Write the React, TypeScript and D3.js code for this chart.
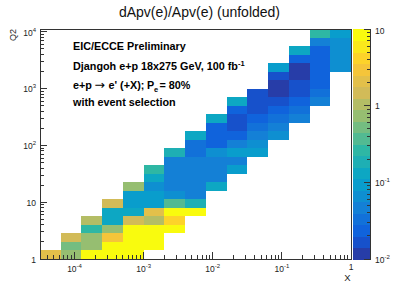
import React from 'react';
import * as d3 from 'd3';

// binning of the unfolded histogram (log10 limits)
const xLogMin = -4.5;
const xLogStep = 0.3;
const nXBins = 15;
const yLogStep = 0.15;
const nYBins = 27;

// first occupied Q2 bin in every x bin
const firstQ2Bin = [0, 0, 0, 0, 0, 1, 3, 5, 8, 10, 12, 14, 16, 18, 22];

// dApv/Apv per bin, from the first occupied Q2 bin upwards
const relErr = [
    [2.1],
    [0.75, 0.53, 1.5],
    [12, 0.75, 0.75, 0.27, 1.06],
    [12, 12, 3.0, 0.75, 0.13, 0.13, 1.5],
    [12, 12, 12, 12, 1.5, 0.13, 0.094, 0.094, 0.75],
    [12, 12, 12, 1.06, 2.1, 0.094, 0.094, 0.067, 0.13, 0.27],
    [12, 4.2, 12, 0.38, 0.067, 0.047, 0.047, 0.047, 0.047, 0.19],
    [12, 0.19, 0.047, 0.047, 0.047, 0.047, 0.047, 0.034, 0.034, 0.13],
    [0.13, 0.047, 0.047, 0.047, 0.067, 0.024, 0.024, 0.024, 0.13],
    [0.094, 0.047, 0.094, 0.047, 0.024, 0.017, 0.017, 0.024, 0.13],
    [0.094, 0.067, 0.047, 0.034, 0.024, 0.017, 0.017, 0.017],
    [0.067, 0.047, 0.034, 0.024, 0.017, 0.012, 0.012, 0.017, 0.094],
    [0.047, 0.034, 0.024, 0.017, 0.017, 0.012, 0.012, 0.024, 0.13],
    [0.047, 0.034, 0.024, 0.024, 0.024, 0.024, 0.024, 0.047, 0.27],
    [0.067, 0.067, 0.067, 0.067, 0.094],
];

// ROOT kBird palette
const birdStops = [0, 0.125, 0.25, 0.375, 0.5, 0.625, 0.75, 0.875, 1];
const birdR = [0.2082, 0.0592, 0.0780, 0.0232, 0.1802, 0.5301, 0.8186, 0.9956, 0.9764];
const birdG = [0.1664, 0.3599, 0.5041, 0.6419, 0.7178, 0.7492, 0.7328, 0.7862, 0.9832];
const birdB = [0.5293, 0.8684, 0.8385, 0.7914, 0.6425, 0.4662, 0.3499, 0.1968, 0.0539];
const nContours = 20;

const W = 399;
const H = 288;
const frame = { left: 40, right: 351, top: 29, bottom: 259 };
const bar = { left: 352.5, right: 370.5 };
const font = '"Liberation Sans", Arial, Helvetica, sans-serif';
const axisColor = '#333';

const bird = d3.scaleLinear<string>()
    .domain(birdStops)
    .range(birdStops.map((_, i) => d3.rgb(birdR[i] * 255, birdG[i] * 255, birdB[i] * 255).toString()));

const xEdges = d3.range(nXBins + 1).map(i => Math.pow(10, xLogMin + i * xLogStep));
const yEdges = d3.range(nYBins + 1).map(i => Math.pow(10, i * yLogStep));

const x = d3.scaleLog().domain([xEdges[0], xEdges[nXBins]]).range([frame.left, frame.right]);
const y = d3.scaleLog().domain([yEdges[0], yEdges[nYBins]]).range([frame.bottom, frame.top]);
const z = d3.scaleLog().domain([0.01, 10]).range([frame.bottom, frame.top]);
const zFrac = d3.scaleLog().domain([0.01, 10]).range([0, 1]).clamp(true);

const bandColor = (band: number) => bird(Math.floor((band + 0.99) * 255 / nContours) / 254);
const cellColor = (v: number) => bandColor(Math.min(nContours - 1, Math.floor(zFrac(v) * nContours)));

const isDecade = (t: number) => Math.abs(Math.log10(t) - Math.round(Math.log10(t))) < 1e-6;

// "10^{n}" style label
const LogLabel = ({ v, supSize, dy }: { v: number, supSize: number, dy: number }) => {
    const e = Math.round(Math.log10(v));
    if (e === 0) return <>1</>;
    if (e === 1) return <>10</>;
    return <>10<tspan fontSize={supSize} dy={dy}>{e}</tspan></>;
};

const App = () => {
    const cells: { x0: number, x1: number, y0: number, y1: number, v: number }[] = [];
    relErr.forEach((vals, c) => {
        vals.forEach((v, k) => {
            const r = firstQ2Bin[c] + k;
            cells.push({ x0: x(xEdges[c]), x1: x(xEdges[c + 1]), y0: y(yEdges[r + 1]), y1: y(yEdges[r]), v });
        });
    });

    const xTicks = x.ticks().filter(t => t >= xEdges[0] && t <= 1.0000001);
    const yTicks = y.ticks().filter(t => t >= 1 && t <= yEdges[nYBins]);
    const zTicks = z.ticks().filter(t => t >= 0.01 && t <= 10.000001);
    const bandH = (frame.bottom - frame.top) / nContours;

    return (
        <svg width={W} height={H} style={{ position: 'absolute', left: 0, top: 0, background: '#fff' }}
            fontFamily={font}>
            <rect width={W} height={H} fill="#fff" />

            <text x={W / 2} y={16.5} fontSize={14} textAnchor="middle" fill="#111">dApv(e)/Apv(e) (unfolded)</text>

            <g shapeRendering="crispEdges">
                {cells.map((d, i) => (
                    <rect key={i} x={d.x0} y={d.y0} width={d.x1 - d.x0} height={d.y1 - d.y0} fill={cellColor(d.v)} />
                ))}
            </g>

            {/* frame */}
            <rect x={frame.left} y={frame.top} width={frame.right - frame.left} height={frame.bottom - frame.top}
                fill="none" stroke={axisColor} strokeWidth={1} shapeRendering="crispEdges" />

            {/* x axis */}
            <g stroke={axisColor} strokeWidth={1} shapeRendering="crispEdges">
                {xTicks.map((t, i) => (
                    <line key={i} x1={x(t)} x2={x(t)} y1={frame.bottom} y2={frame.bottom - (isDecade(t) ? 7 : 4)} />
                ))}
            </g>
            <g fontSize={8.5} fill="#222" textAnchor="middle">
                {xTicks.filter(isDecade).map((t, i) => (
                    <text key={i} x={x(t)} y={t === 1 ? 270 : 272}><LogLabel v={t} supSize={6} dy={-4} /></text>
                ))}
            </g>
            <text x={frame.right - 0.5} y={281} fontSize={9.5} textAnchor="end" fill="#222">X</text>

            {/* y axis */}
            <g stroke={axisColor} strokeWidth={1} shapeRendering="crispEdges">
                {yTicks.map((t, i) => (
                    <line key={i} y1={y(t)} y2={y(t)} x1={frame.left} x2={frame.left + (isDecade(t) ? 7 : 3.5)} />
                ))}
            </g>
            <g fontSize={8.5} fill="#222" textAnchor="end">
                {yTicks.filter(isDecade).map((t, i) => (
                    <text key={i} x={36} y={y(t) + 3.8}><LogLabel v={t} supSize={6} dy={-4} /></text>
                ))}
            </g>
            <text transform={`translate(15.5, ${frame.top}) rotate(-90)`} fontSize={9} textAnchor="end" fill="#222">Q2</text>

            {/* palette */}
            <g shapeRendering="crispEdges">
                {d3.range(nContours).map(b => (
                    <rect key={b} x={bar.left} width={bar.right - bar.left}
                        y={frame.bottom - (b + 1) * bandH} height={bandH + 0.5} fill={bandColor(b)} />
                ))}
            </g>
            <g stroke={axisColor} strokeWidth={1} shapeRendering="crispEdges">
                <line x1={bar.right} x2={bar.right} y1={frame.top} y2={frame.bottom} />
                {zTicks.map((t, i) => (
                    <line key={i} y1={z(t)} y2={z(t)} x1={bar.right} x2={bar.right - (isDecade(t) ? 6.5 : 3.5)} />
                ))}
            </g>
            <g fontSize={8.5} fill="#222">
                {zTicks.filter(isDecade).map((t, i) => (
                    <text key={i} x={375} y={z(t) + (t >= 10 ? 4.6 : 3.5)}><LogLabel v={t} supSize={6} dy={-4} /></text>
                ))}
            </g>

            {/* labels */}
            <g fontSize={10.8} fontWeight="bold" fill="#000">
                <text x={73} y={49.5}>EIC/ECCE Preliminary</text>
                <text x={73} y={70}>Djangoh e+p 18x275 GeV, 100 fb<tspan fontSize={7.5} dy={-4.5}>-1</tspan></text>
                <text y={88.5}>
                    <tspan x={73}>e+p</tspan>
                    <tspan x={94.5} fontWeight="normal" fontSize={12.5} fontFamily='"DejaVu Sans", sans-serif'>→</tspan>
                    <tspan x={108.5}>e' (+X);</tspan>
                    <tspan x={147}>P</tspan>
                    <tspan x={154} dy={3} fontSize={7.5}>e</tspan>
                    <tspan x={159.5} dy={-3}>= 80%</tspan>
                </text>
                <text x={73} y={105.5}>with event selection</text>
            </g>
        </svg>
    );
};

export default App;
